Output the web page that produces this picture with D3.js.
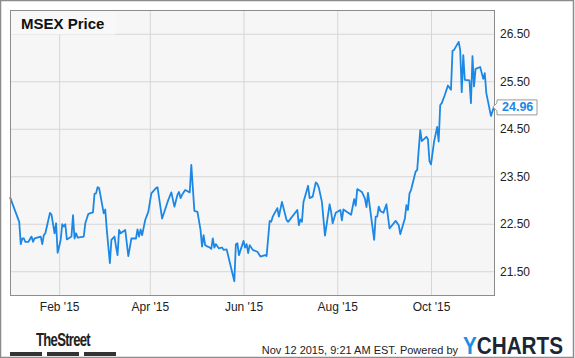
<!DOCTYPE html>
<html>
<head>
<meta charset="utf-8">
<script src="https://cdn.jsdelivr.net/npm/d3@7"></script>
<style>
  body { margin: 0; background: #fff; }
  svg { display: block; font-family: "Liberation Sans", Arial, sans-serif; }
</style>
</head>
<body>
<div id="chart"></div>
<script>
// MSEX daily closes
var dates = [
  "2014-12-31","2015-01-06","2015-01-07","2015-01-08","2015-01-09","2015-01-10","2015-01-12","2015-01-14",
  "2015-01-15","2015-01-16","2015-01-20","2015-01-21","2015-01-22","2015-01-23","2015-01-26","2015-01-27",
  "2015-01-29","2015-01-30","2015-01-31","2015-02-01","2015-02-02","2015-02-03","2015-02-04","2015-02-05",
  "2015-02-06","2015-02-09","2015-02-10","2015-02-11","2015-02-12","2015-02-13","2015-02-17","2015-02-18",
  "2015-02-20","2015-02-23","2015-02-24","2015-02-25","2015-02-26","2015-02-27","2015-03-02","2015-03-03",
  "2015-03-04","2015-03-06","2015-03-07","2015-03-09","2015-03-10","2015-03-11","2015-03-12","2015-03-13",
  "2015-03-16","2015-03-18","2015-03-20","2015-03-23","2015-03-24","2015-03-25","2015-03-26","2015-03-27",
  "2015-03-29","2015-03-31","2015-04-02","2015-04-05","2015-04-06","2015-04-09","2015-04-13","2015-04-15",
  "2015-04-17","2015-04-19","2015-04-20","2015-04-21","2015-04-22","2015-04-24","2015-04-27","2015-04-28",
  "2015-04-30","2015-05-02","2015-05-04","2015-05-05","2015-05-06","2015-05-07","2015-05-08","2015-05-10",
  "2015-05-11","2015-05-12","2015-05-13","2015-05-14","2015-05-16","2015-05-18","2015-05-19","2015-05-21",
  "2015-05-26","2015-05-27","2015-05-28","2015-05-29","2015-06-01","2015-06-02","2015-06-03","2015-06-04",
  "2015-06-05","2015-06-07","2015-06-10","2015-06-12","2015-06-15","2015-06-16","2015-06-18","2015-06-19",
  "2015-06-20","2015-06-23","2015-06-24","2015-06-26","2015-06-29","2015-06-30","2015-07-06","2015-07-07",
  "2015-07-08","2015-07-09","2015-07-10","2015-07-13","2015-07-14","2015-07-16","2015-07-18","2015-07-19",
  "2015-07-20","2015-07-22","2015-07-24","2015-07-27","2015-07-28","2015-07-29","2015-07-31","2015-08-03",
  "2015-08-04","2015-08-05","2015-08-10","2015-08-12","2015-08-13","2015-08-14","2015-08-17","2015-08-19",
  "2015-08-20","2015-08-21","2015-08-25","2015-08-26","2015-08-27","2015-08-28","2015-08-29","2015-08-31",
  "2015-09-02","2015-09-04","2015-09-08","2015-09-10","2015-09-11","2015-09-14","2015-09-15","2015-09-16",
  "2015-09-17","2015-09-18","2015-09-21","2015-09-22","2015-09-24","2015-09-25","2015-09-28","2015-09-29",
  "2015-09-30","2015-10-01","2015-10-03","2015-10-05","2015-10-06","2015-10-07","2015-10-08","2015-10-10",
  "2015-10-12","2015-10-14","2015-10-15","2015-10-16","2015-10-19","2015-10-20","2015-10-21","2015-10-22",
  "2015-10-23","2015-10-26","2015-10-27","2015-10-28","2015-10-29","2015-10-30","2015-11-02","2015-11-04",
  "2015-11-05","2015-11-06","2015-11-09","2015-11-11"
];
var prices = [
  23.06,22.54,22.07,22.19,22.19,22.12,22.12,22.23,
  22.12,22.19,22.23,22.07,22.26,22.30,22.73,22.69,
  22.30,22.51,21.89,22.02,22.16,22.49,22.44,22.49,
  22.17,22.23,22.68,22.19,22.30,22.21,22.23,22.51,
  22.71,22.74,23.13,23.14,23.27,23.25,22.72,22.80,
  22.37,21.67,22.16,22.23,22.02,21.84,22.37,22.30,
  22.37,21.82,22.19,22.19,22.38,22.23,22.38,22.26,
  22.58,22.75,23.14,23.25,23.27,22.61,23.00,23.16,
  22.86,23.11,23.17,23.04,23.11,23.21,23.16,23.74,
  22.77,22.75,22.37,22.02,22.26,22.05,22.03,22.00,
  21.97,22.19,22.00,22.07,21.98,22.00,21.95,21.96,
  21.29,22.07,22.09,21.84,22.14,22.00,22.07,21.88,
  22.05,21.95,21.91,21.81,21.84,21.82,22.56,22.54,
  22.65,22.83,22.65,22.96,22.58,22.54,22.79,22.47,
  22.59,22.54,22.96,23.30,23.04,23.07,23.37,23.34,
  23.26,22.96,22.25,22.91,22.75,22.51,22.73,22.79,
  22.57,22.80,22.69,23.02,22.88,23.23,23.17,23.03,
  22.85,23.15,22.16,22.65,22.65,22.86,22.77,22.73,
  22.91,22.40,22.56,22.47,22.28,22.61,22.89,22.79,
  23.14,23.21,23.60,23.63,24.47,24.24,24.33,24.28,
  23.82,23.75,24.23,24.54,24.23,25.00,25.04,25.21,
  25.41,25.32,26.14,26.16,26.33,26.16,25.27,26.05,
  25.53,25.52,25.04,26.03,25.39,25.76,25.80,25.55,
  25.67,25.25,24.77,24.96
];
var xTicks = ["2015-02-01","2015-04-01","2015-06-01","2015-08-01","2015-10-01"];
var yTicks = [21.5, 22.5, 23.5, 24.5, 25.5, 26.5];

var W = 575, H = 358;
var plot = {left: 10, top: 10, right: 494, bottom: 295};
var parse = d3.timeParse("%Y-%m-%d");

var data = dates.map(function(d, i) { return {date: parse(d), price: prices[i]}; });

var svg = d3.select("#chart").append("svg")
    .attr("width", W)
    .attr("height", H);

// outer frame
svg.append("rect")
    .attr("x", 0.5).attr("y", 0.5)
    .attr("width", W - 2).attr("height", H - 1)
    .attr("fill", "#fff")
    .attr("stroke", "#8c8c8c")
    .attr("stroke-width", 1.5);

var x = d3.scaleTime()
    .domain([parse("2014-12-31"), parse("2015-11-11")])
    .range([plot.left, plot.right]);

var y = d3.scaleLinear()
    .domain([21, 27])
    .range([plot.bottom, plot.top]);

// plot background
svg.append("rect")
    .attr("x", plot.left).attr("y", plot.top)
    .attr("width", plot.right - plot.left)
    .attr("height", plot.bottom - plot.top)
    .attr("fill", "#f6f6f6");

// grid
svg.append("g")
    .attr("transform", "translate(" + plot.right + ",0)")
    .call(d3.axisLeft(y).tickValues(yTicks).tickSize(plot.right - plot.left).tickFormat(""))
    .call(function(g) { g.select(".domain").remove(); })
    .selectAll("line").attr("stroke", "#d6d6d6");

svg.append("g")
    .attr("transform", "translate(0," + plot.bottom + ")")
    .call(d3.axisTop(x).tickValues(xTicks.map(parse)).tickSize(plot.bottom - plot.top).tickFormat(""))
    .call(function(g) { g.select(".domain").remove(); })
    .selectAll("line").attr("stroke", "#d6d6d6");

// title box
svg.append("rect")
    .attr("x", plot.left + 0.5).attr("y", plot.top + 0.5)
    .attr("width", 105).attr("height", 24)
    .attr("fill", "#f8f8f8");
svg.append("text")
    .attr("x", 21).attr("y", 29)
    .style("font-size", "15px")
    .style("font-weight", "bold")
    .attr("fill", "#111")
    .text("MSEX Price");

// price line
var line = d3.line()
    .x(function(d) { return x(d.date); })
    .y(function(d) { return y(d.price); });

svg.append("path")
    .datum(data)
    .attr("fill", "none")
    .attr("stroke", "#1c88e6")
    .attr("stroke-width", 1.8)
    .attr("stroke-linejoin", "round")
    .attr("d", line);

// plot frame
svg.append("rect")
    .attr("x", plot.left + 0.5).attr("y", plot.top + 0.5)
    .attr("width", plot.right - plot.left)
    .attr("height", plot.bottom - plot.top)
    .attr("fill", "none")
    .attr("stroke", "#8c8c8c");

// axes labels
var yAxis = svg.append("g")
    .attr("transform", "translate(" + plot.right + ",0)")
    .call(d3.axisRight(y).tickValues(yTicks).tickSize(0).tickPadding(6).tickFormat(d3.format(".2f")));
yAxis.select(".domain").remove();
yAxis.selectAll("text").style("font-size", "12px").attr("fill", "#222");

var xAxis = svg.append("g")
    .attr("transform", "translate(0," + plot.bottom + ")")
    .call(d3.axisBottom(x).tickValues(xTicks.map(parse)).tickSize(0).tickPadding(7).tickFormat(d3.timeFormat("%b '%y")));
xAxis.select(".domain").remove();
xAxis.selectAll("text").style("font-size", "12px").attr("fill", "#222");

// last value flag
var last = data[data.length - 1];
var ly = y(last.price);
svg.append("path")
    .attr("d", "M" + (plot.right - 1) + "," + ly +
               "L" + (plot.right + 3) + "," + (ly - 4) +
               "V" + (ly - 7) + "H" + (plot.right + 43) +
               "V" + (ly + 8) + "H" + (plot.right + 3) +
               "V" + (ly + 4) + "Z")
    .attr("fill", "#fff")
    .attr("stroke", "#9a9a9a");
svg.append("text")
    .attr("x", plot.right + 8).attr("y", ly + 4.5)
    .style("font-size", "12.5px")
    .style("font-weight", "bold")
    .attr("fill", "#1c88e6")
    .text(d3.format(".2f")(last.price));

// footer
svg.append("text")
    .attr("x", 36).attr("y", 346)
    .attr("textLength", 54).attr("lengthAdjust", "spacingAndGlyphs")
    .style("font-size", "19px")
    .style("font-weight", "bold")
    .style("letter-spacing", "-1px")
    .attr("fill", "#222")
    .text("TheStreet");
[10, 47, 84].forEach(function(bx) {
  svg.append("rect").attr("x", bx).attr("y", 352).attr("width", 32).attr("height", 4).attr("fill", "#333");
});

svg.append("text")
    .attr("x", 458).attr("y", 353.5)
    .attr("text-anchor", "end")
    .style("font-size", "11px")
    .attr("fill", "#222")
    .text("Nov 12 2015, 9:21 AM EST.  Powered by");

var yc = svg.append("text")
    .attr("x", 463).attr("y", 354)
    .attr("textLength", 100).attr("lengthAdjust", "spacingAndGlyphs")
    .style("font-size", "23px")
    .style("font-weight", "bold");
yc.append("tspan").attr("fill", "#1a8fe4").text("Y");
yc.append("tspan").attr("fill", "#1b2735").text("CHARTS");
</script>
</body>
</html>
